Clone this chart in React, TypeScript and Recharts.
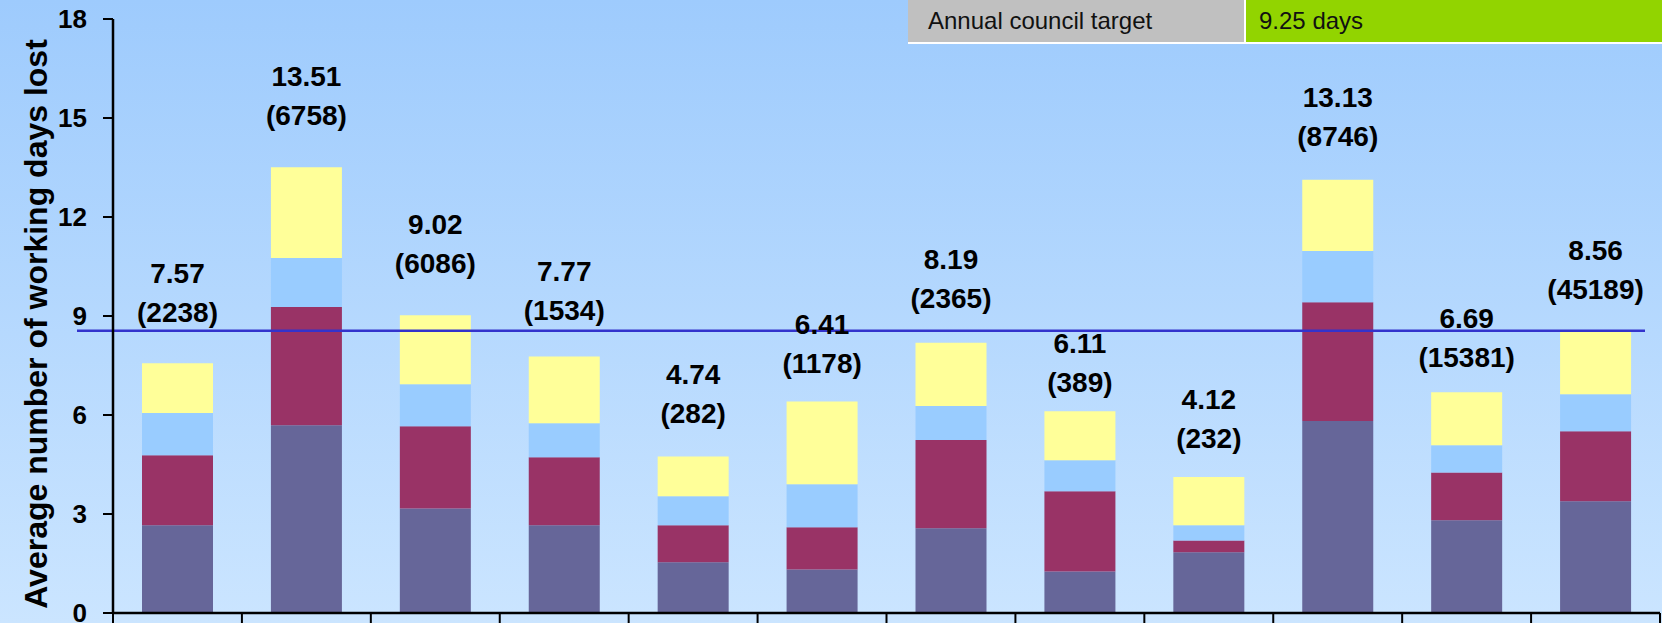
import { BarChart, Bar, XAxis, YAxis, ReferenceLine, LabelList, Label } from 'recharts'

const categories = ['S1', 'S2', 'S3', 'S4', 'S5', 'S6', 'S7', 'S8', 'S9', 'S10', 'S11', 'S12']

// stacked segments, bottom to top
const segPurple = [2.66, 5.69, 3.17, 2.66, 1.54, 1.32, 2.57, 1.26, 1.84, 5.82, 2.81, 3.39]
const segMaroon = [2.12, 3.58, 2.49, 2.06, 1.12, 1.28, 2.67, 2.43, 0.36, 3.6, 1.45, 2.12]
const segBlue = [1.28, 1.49, 1.27, 1.03, 0.88, 1.3, 1.03, 0.94, 0.46, 1.55, 0.82, 1.12]
const segYellow = [1.51, 2.75, 2.09, 2.02, 1.2, 2.51, 1.92, 1.48, 1.46, 2.16, 1.61, 1.93]

const totals = [7.57, 13.51, 9.02, 7.77, 4.74, 6.41, 8.19, 6.11, 4.12, 13.13, 6.69, 8.56]
const counts = [2238, 6758, 6086, 1534, 282, 1178, 2365, 389, 232, 8746, 15381, 45189]

const yTicks = [0, 3, 6, 9, 12, 15, 18]
const averageLine = 8.55

// how far (px) each label sits above its bar, as placed in the original
const labelRaise = [51, 52, 52, 46, 43, 38, 44, 29, 39, 43, 35, 41]

const W = 1662
const H = 623
const AXIS_W = 113
const RIGHT = 2
const TOP = 19
const XAXIS_H = 10
const STEP = (W - AXIS_W - RIGHT) / categories.length
const PLOT_BOTTOM = H - XAXIS_H

const data = categories.map((name, i) => ({
  name,
  purple: segPurple[i],
  maroon: segMaroon[i],
  blue: segBlue[i],
  yellow: segYellow[i],
}))

const font = '"Liberation Sans", Arial, sans-serif'

const BoundaryTick = (props: any) => {
  const { x, index } = props
  const half = STEP / 2
  return (
    <g>
      <line x1={x - half} x2={x - half} y1={PLOT_BOTTOM} y2={H} stroke="#000" strokeWidth={2} />
      {index === categories.length - 1 && (
        <line x1={x + half} x2={x + half} y1={PLOT_BOTTOM} y2={H} stroke="#000" strokeWidth={2} />
      )}
    </g>
  )
}

const TopLabel = (props: any) => {
  const { x, y, width, index } = props
  const cx = x + width / 2
  const second = y - labelRaise[index]
  return (
    <g fontFamily={font} fontWeight={700} fontSize={28} fill="#000" textAnchor="middle">
      <text x={cx} y={second - 39} dominantBaseline="central">{totals[index].toFixed(2)}</text>
      <text x={cx} y={second} dominantBaseline="central">({counts[index]})</text>
    </g>
  )
}

const AvgLine = (props: any) => {
  const { x1, x2, y1 } = props
  return <line x1={x1 - 36} x2={x2 - 15} y1={y1} y2={y1} stroke="#3333cc" strokeWidth={2.5} />
}

export default function App() {
  return (
    <div style={{
      position: 'absolute', left: 0, top: 0, width: W, height: H, overflow: 'hidden',
      background: 'linear-gradient(to bottom, #9ecbfd 0%, #cbe5ff 100%)',
    }}>
      <BarChart width={W} height={H} data={data} margin={{ top: TOP, right: RIGHT, bottom: 0, left: 0 }}>
        <XAxis
          dataKey="name"
          height={XAXIS_H}
          axisLine={{ stroke: '#000', strokeWidth: 2.5 }}
          tickLine={false}
          tick={<BoundaryTick />}
          interval={0}
        />
        <YAxis
          type="number"
          domain={[0, 18]}
          ticks={yTicks}
          interval={0}
          width={AXIS_W}
          axisLine={{ stroke: '#000', strokeWidth: 2.5 }}
          tickLine={{ stroke: '#000', strokeWidth: 2 }}
          tickSize={10}
          tickMargin={16}
          tick={{ fontFamily: font, fontWeight: 700, fontSize: 26, fill: '#000' }}
        >
          <Label
            content={(p: any) => {
              const vb = p.viewBox
              const cy = vb.y + vb.height / 2 + 8
              return (
                <text
                  x={36} y={cy}
                  transform={`rotate(-90 36 ${cy})`}
                  textAnchor="middle" dominantBaseline="central"
                  fontFamily={font} fontWeight={700} fontSize={32} fill="#000"
                >
                  Average number of working days lost
                </text>
              )
            }}
          />
        </YAxis>
        <Bar dataKey="purple" stackId="a" fill="#666699" barSize={71} isAnimationActive={false} />
        <Bar dataKey="maroon" stackId="a" fill="#993366" barSize={71} isAnimationActive={false} />
        <Bar dataKey="blue" stackId="a" fill="#99ccff" barSize={71} isAnimationActive={false} />
        <Bar dataKey="yellow" stackId="a" fill="#ffff99" barSize={71} isAnimationActive={false}>
          <LabelList content={<TopLabel />} />
        </Bar>
        <ReferenceLine y={averageLine} shape={<AvgLine />} />
      </BarChart>

      <div style={{
        position: 'absolute', left: 908, top: 0, width: 336, height: 42, background: '#c0c0c0',
        fontFamily: font, fontSize: 24, color: '#111', lineHeight: '42px', paddingLeft: 20, boxSizing: 'border-box',
      }}>Annual council target</div>
      <div style={{
        position: 'absolute', left: 1246, top: 0, width: 416, height: 42, background: '#92d400',
        fontFamily: font, fontSize: 24, color: '#111', lineHeight: '42px', paddingLeft: 13, boxSizing: 'border-box',
      }}>9.25 days</div>
      <div style={{ position: 'absolute', left: 1244, top: 0, width: 2, height: 42, background: '#fff' }} />
      <div style={{ position: 'absolute', left: 908, top: 42, width: 754, height: 2, background: '#fff' }} />
    </div>
  )
}
